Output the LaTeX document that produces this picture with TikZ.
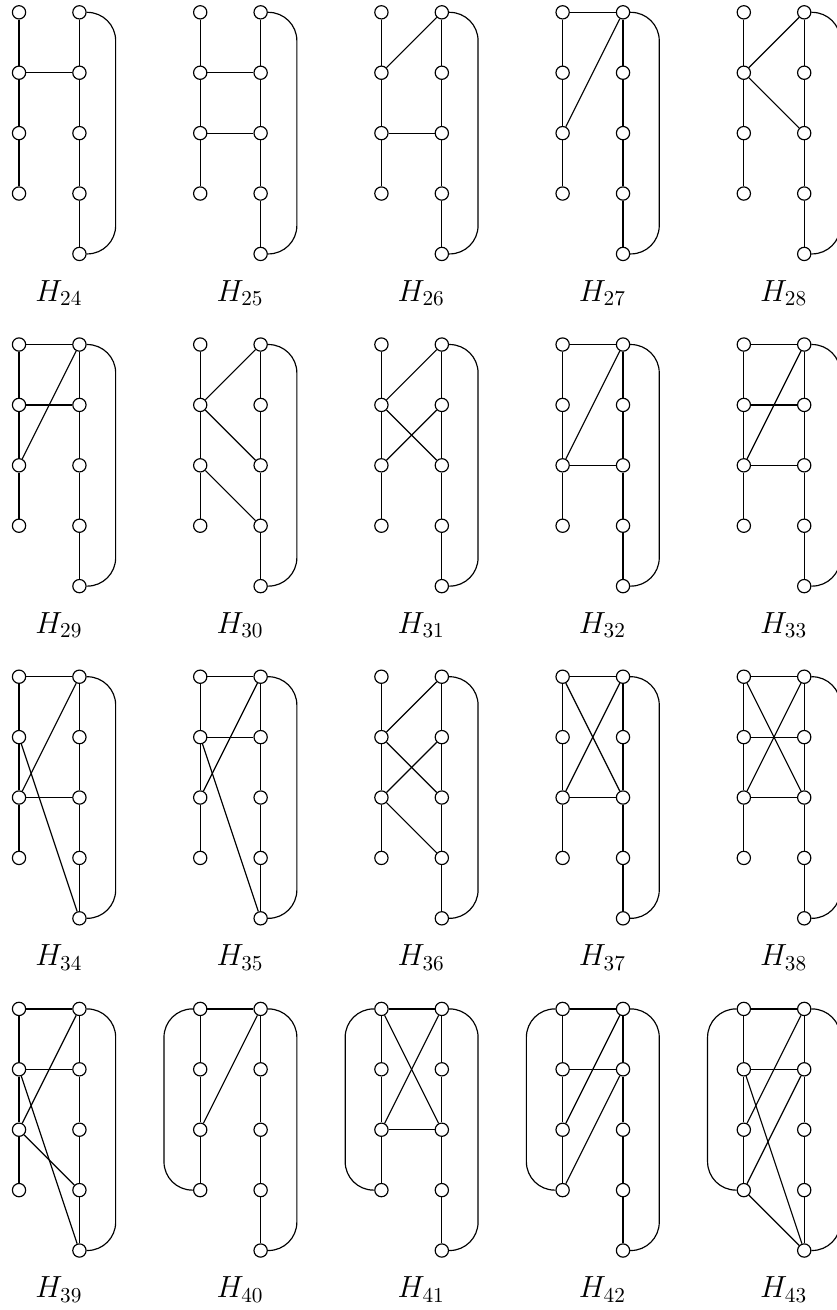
\documentclass[tikz,border=0pt]{standalone}
\newcommand\mkgraph[4]{%
  \foreach \k in {1,...,4} {\node[vtx] (#1L\k) at (#2,#3+1-\k) {};}
  \foreach \k in {1,...,5} {\node[vtx] (#1R\k) at (#2+1,#3+1-\k) {};}
  \draw[edge] (#1L1) -- (#1L2) -- (#1L3) -- (#1L4);
  \draw[edge] (#1R1) -- (#1R2) -- (#1R3) -- (#1R4) -- (#1R5);
  \draw[loopline] (#1R1) -- ++(0.6,0) |- (#1R5);
  \node[lbl] (#1lab) at (#2+0.66,#3-4.78) {$H_{#4}$};
}
\newcommand\leftloop[1]{\draw[loopline] (#1L1) -- ++(-0.6,0) |- (#1L4);}
\begin{document}
\begin{tikzpicture}[x=1cm,y=1cm,
  vtx/.style={circle,draw,fill=white,minimum size=0.22cm,inner sep=0pt,line width=0.55pt},
  edge/.style={line width=0.55pt},
  loopline/.style={line width=0.55pt,rounded corners=0.47cm},
  lbl/.style={anchor=base,font=\fontsize{14}{17}\selectfont}]
\useasboundingbox (-0.315,0.204) rectangle (13.527,-21.485);
% Row 1
\mkgraph{a}{0}{0}{24}
\draw[edge] (aL2) -- (aR2);
\mkgraph{b}{3}{0}{25}
\draw[edge] (bL2) -- (bR2);
\draw[edge] (bL3) -- (bR3);
\mkgraph{c}{6}{0}{26}
\draw[edge] (cL2) -- (cR1);
\draw[edge] (cL3) -- (cR3);
\mkgraph{d}{9}{0}{27}
\draw[edge] (dL1) -- (dR1);
\draw[edge] (dL3) -- (dR1);
\mkgraph{e}{12}{0}{28}
\draw[edge] (eL2) -- (eR1);
\draw[edge] (eL2) -- (eR3);
% Row 2
\mkgraph{f}{0}{-5.5}{29}
\draw[edge] (fL1) -- (fR1);
\draw[edge] (fL2) -- (fR2);
\draw[edge] (fL3) -- (fR1);
\mkgraph{g}{3}{-5.5}{30}
\draw[edge] (gL2) -- (gR1);
\draw[edge] (gL2) -- (gR3);
\draw[edge] (gL3) -- (gR4);
\mkgraph{h}{6}{-5.5}{31}
\draw[edge] (hL2) -- (hR1);
\draw[edge] (hL2) -- (hR3);
\draw[edge] (hL3) -- (hR2);
\mkgraph{i}{9}{-5.5}{32}
\draw[edge] (iL1) -- (iR1);
\draw[edge] (iL3) -- (iR1);
\draw[edge] (iL3) -- (iR3);
\mkgraph{j}{12}{-5.5}{33}
\draw[edge] (jL1) -- (jR1);
\draw[edge] (jL2) -- (jR2);
\draw[edge] (jL3) -- (jR1);
\draw[edge] (jL3) -- (jR3);
% Row 3
\mkgraph{k}{0}{-11}{34}
\draw[edge] (kL1) -- (kR1);
\draw[edge] (kL3) -- (kR1);
\draw[edge] (kL3) -- (kR3);
\draw[edge] (kL2) -- (kR5);
\mkgraph{l}{3}{-11}{35}
\draw[edge] (lL1) -- (lR1);
\draw[edge] (lL2) -- (lR2);
\draw[edge] (lL3) -- (lR1);
\draw[edge] (lL2) -- (lR5);
\mkgraph{m}{6}{-11}{36}
\draw[edge] (mL2) -- (mR1);
\draw[edge] (mL2) -- (mR3);
\draw[edge] (mL3) -- (mR2);
\draw[edge] (mL3) -- (mR4);
\mkgraph{n}{9}{-11}{37}
\draw[edge] (nL1) -- (nR1);
\draw[edge] (nL1) -- (nR3);
\draw[edge] (nL3) -- (nR1);
\draw[edge] (nL3) -- (nR3);
\mkgraph{o}{12}{-11}{38}
\draw[edge] (oL1) -- (oR1);
\draw[edge] (oL1) -- (oR3);
\draw[edge] (oL3) -- (oR1);
\draw[edge] (oL3) -- (oR3);
\draw[edge] (oL2) -- (oR2);
% Row 4
\mkgraph{p}{0}{-16.5}{39}
\draw[edge] (pL1) -- (pR1);
\draw[edge] (pL2) -- (pR2);
\draw[edge] (pL3) -- (pR1);
\draw[edge] (pL2) -- (pR5);
\draw[edge] (pL3) -- (pR4);
\mkgraph{q}{3}{-16.5}{40}
\leftloop{q}
\draw[edge] (qL1) -- (qR1);
\draw[edge] (qL3) -- (qR1);
\mkgraph{r}{6}{-16.5}{41}
\leftloop{r}
\draw[edge] (rL1) -- (rR1);
\draw[edge] (rL1) -- (rR3);
\draw[edge] (rL3) -- (rR1);
\draw[edge] (rL3) -- (rR3);
\mkgraph{s}{9}{-16.5}{42}
\leftloop{s}
\draw[edge] (sL1) -- (sR1);
\draw[edge] (sL2) -- (sR2);
\draw[edge] (sL3) -- (sR1);
\draw[edge] (sL4) -- (sR2);
\mkgraph{t}{12}{-16.5}{43}
\leftloop{t}
\draw[edge] (tL1) -- (tR1);
\draw[edge] (tL2) -- (tR2);
\draw[edge] (tL3) -- (tR1);
\draw[edge] (tL4) -- (tR2);
\draw[edge] (tL2) -- (tR5);
\draw[edge] (tL4) -- (tR5);
\end{tikzpicture}
\end{document}
